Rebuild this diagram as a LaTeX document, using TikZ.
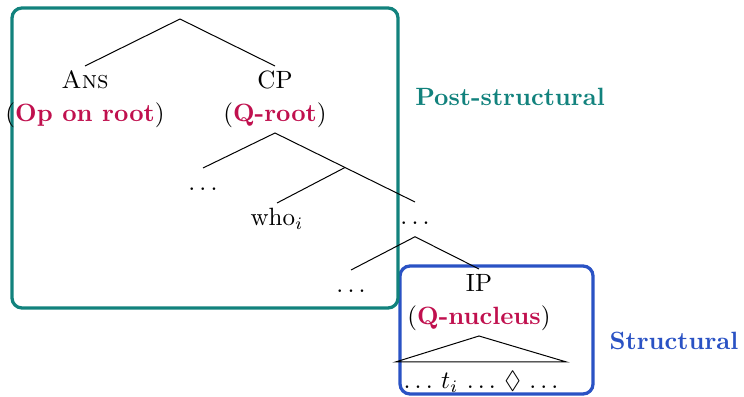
\documentclass[tikz,border=0pt]{standalone}
\usepackage{tikz}
\usepackage{amsmath}
\usepackage{amssymb}
\usetikzlibrary{positioning}
\usetikzlibrary{calc}

\definecolor{postcol}{RGB}{18,130,125}
\definecolor{strcol}{RGB}{42,82,196}
\definecolor{notecol}{RGB}{192,16,78}
\newcommand{\hl}[1]{\textcolor{notecol}{\textbf{#1}}}

\begin{document}
\begin{tikzpicture}[x=0.4pt,y=-0.4pt,
  lbl/.style={inner sep=2pt,text height=7pt,text depth=2.5pt,anchor=north},
  note/.style={lbl,below=-1pt of #1},
  regbox/.style={line width=1.3pt,rounded corners=4pt}]
 \useasboundingbox (0,0) rectangle (744,397);
 % the two regions
 \draw[regbox,strcol] (400,266) rectangle (593,394);
 \draw[regbox,postcol] (12,8) rectangle (398,308);
 \node[text=postcol,font=\bfseries] (postlbl) at (510,97) {Post-structural};
 \node[text=strcol,font=\bfseries] (strlbl) at (674,341) {Structural};
 % tree
 \coordinate (root) at (180,19);
 \node[lbl] (ans) at (85,66) {\textsc{Ans}};
 \node[note=ans] (ansnote) {(\hl{Op on root})};
 \node[lbl] (cp) at (275,66) {CP};
 \node[note=cp] (cpnote) {(\hl{Q-root})};
 \node[lbl] (dotsa) at (203,168) {$\ldots$};
 \node[lbl] (who) at (277,203) {who$_i$};
 \node[lbl] (dotsb) at (415,202) {$\ldots$};
 \node[lbl] (dotsc) at (351,270) {$\ldots$};
 \node[lbl] (ip) at (479,269) {IP};
 \node[note=ip] (ipnote) {(\hl{Q-nucleus})};
 \node[lbl,inner ysep=3.4pt,minimum width=68pt] (leaf) at (481,362) {$\ldots$ $t_i$ $\ldots$ $\lozenge$ $\ldots$};
 \coordinate (cbar) at ($(cpnote.south)!0.5!(dotsb.north)$);
 \draw (root) -- (ans.north);
 \draw (root) -- (cp.north);
 \draw (dotsa.north) -- (cpnote.south) -- (dotsb.north);
 \draw (cbar) -- (who.north);
 \draw (dotsc.north) -- (dotsb.south) -- (ip.north);
 \draw (leaf.north west) -- (ipnote.south) -- (leaf.north east) -- cycle;
\end{tikzpicture}
\end{document}
